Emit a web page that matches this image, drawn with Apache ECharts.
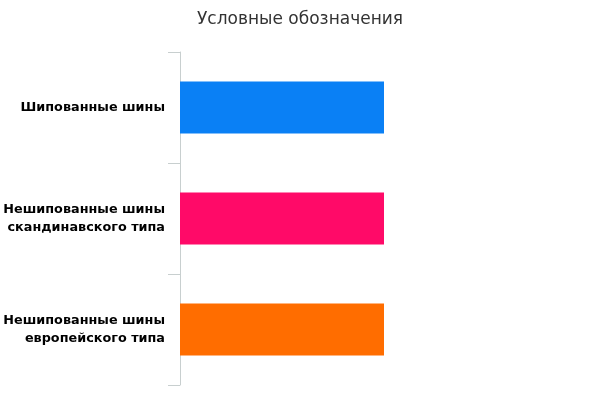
<!DOCTYPE html>
<html lang="ru">
<head>
<meta charset="UTF-8">
<title>Условные обозначения</title>
<script src="https://cdn.jsdelivr.net/npm/echarts@6/dist/echarts.min.js"></script>
</head>
<body style="margin:0">
<div id="main" style="width:600px;height:400px"></div>
<script>
    // categories from top to bottom
    let categories = ['Шипованные шины', 'Нешипованные шины\nскандинавского типа', 'Нешипованные шины\nевропейского типа'];
    let values = [1, 1, 1];
    let colors = ['#0a80f5', '#ff0a68', '#ff6d00'];

    let myChart = echarts.init(document.getElementById('main'));
    myChart.setOption({
        title: {
            text: 'Условные обозначения',
            left: 'center',
            top: 6,
            textStyle: { fontFamily: 'DejaVu Sans', fontSize: 17, fontWeight: 'normal', color: '#333' }
        },
        grid: { left: 180, right: 216, top: 52, bottom: 15 },
        xAxis: { type: 'value', min: 0, max: 1, show: false },
        yAxis: {
            type: 'category',
            inverse: true,
            data: categories,
            axisLine: { show: true, lineStyle: { color: '#c8cfcf' } },
            axisTick: { show: true, alignWithLabel: false, length: 12, lineStyle: { color: '#c8cfcf' } },
            axisLabel: {
                margin: 15, color: '#000', fontFamily: 'DejaVu Sans', fontSize: 12.8,
                fontWeight: 'bold', lineHeight: 18, align: 'right'
            }
        },
        series: [{
            type: 'bar',
            barWidth: 52,
            animation: false,
            data: values.map(function (v, i) {
                return { value: v, itemStyle: { color: colors[i] } };
            })
        }]
    });
</script>
</body>
</html>
